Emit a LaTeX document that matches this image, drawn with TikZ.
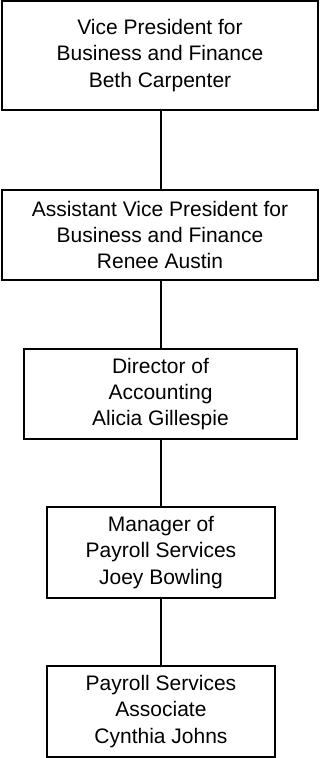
\documentclass[tikz,border=0pt]{standalone}
\usepackage{fontspec}
\setmainfont{Liberation Sans}
\begin{document}
\begin{tikzpicture}[x=1pt,y=-1pt,
  orgbox/.style={draw=black, line width=1.5pt, fill=white, inner sep=0pt,
    align=center, font=\fontsize{21}{26.3}\selectfont},
  link/.style={draw=black, line width=1.5pt}]
\useasboundingbox (0,0) rectangle (320,758);
\node[orgbox, minimum width=316pt, minimum height=109pt] (vp) at (160,55.5)
  {Vice President for\\Business and Finance\\Beth Carpenter};
\node[orgbox, minimum width=316pt, minimum height=90pt] (avp) at (160,235)
  {Assistant Vice President for\\Business and Finance\\Renee Austin};
\node[orgbox, minimum width=273pt, minimum height=90pt] (dir) at (160.5,394)
  {Director of\\Accounting\\Alicia Gillespie};
\node[orgbox, minimum width=228pt, minimum height=91pt] (mgr) at (161,552.5)
  {Manager of\\Payroll Services\\Joey Bowling};
\node[orgbox, minimum width=228pt, minimum height=91pt] (assoc) at (161,711.5)
  {Payroll Services\\Associate\\Cynthia Johns};
\draw[link] (vp.south -| 161,0) -- (avp.north -| 161,0);
\draw[link] (avp.south -| 161,0) -- (dir.north -| 161,0);
\draw[link] (dir.south -| 161,0) -- (mgr.north -| 161,0);
\draw[link] (mgr.south -| 161,0) -- (assoc.north -| 161,0);
\end{tikzpicture}
\end{document}
